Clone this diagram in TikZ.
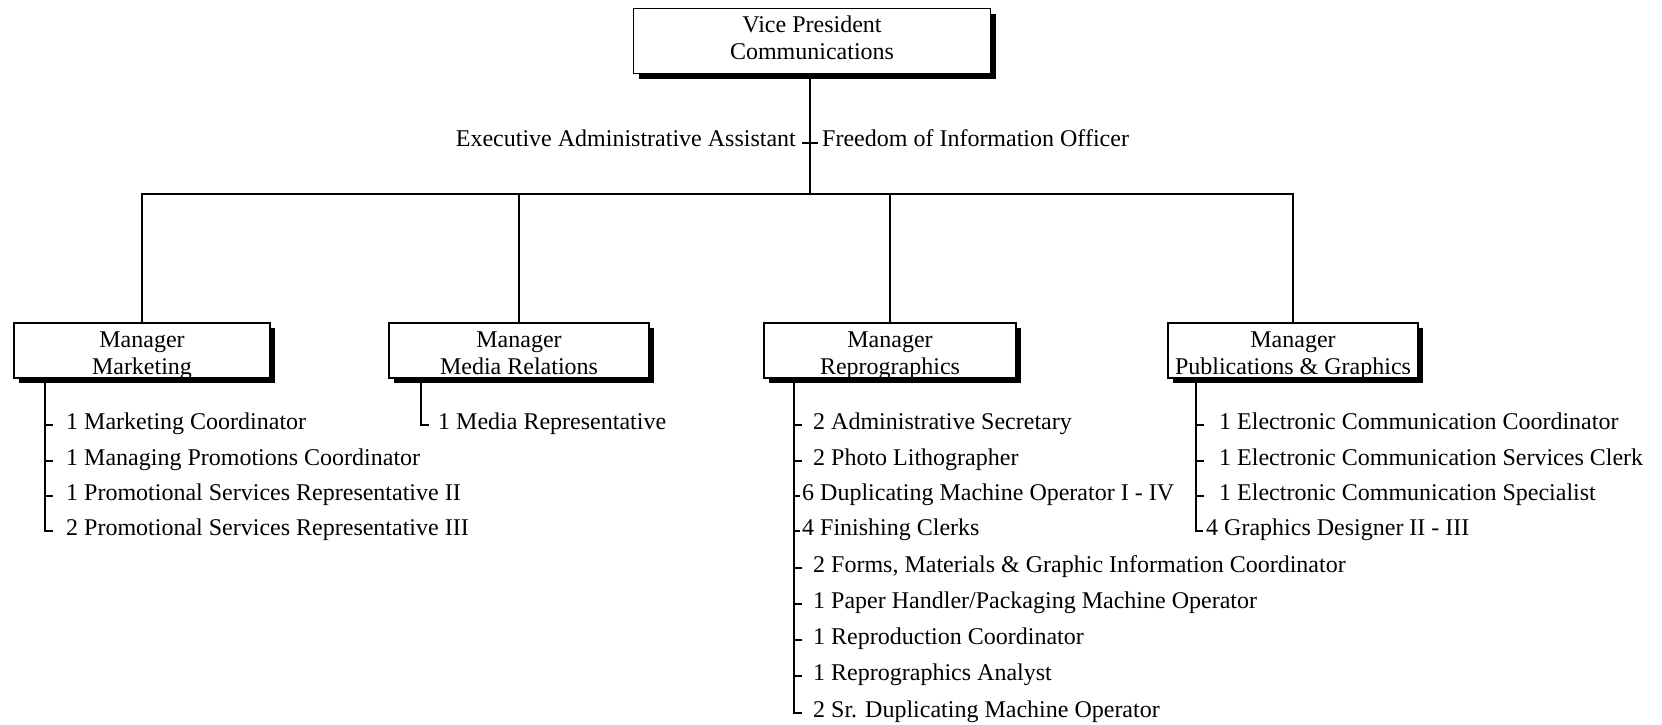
\documentclass[tikz,border=0pt]{standalone}
\usepackage{fontspec}
\setmainfont{Liberation Serif}
\usetikzlibrary{calc,shadows}
\newcommand{\chfont}{\fontsize{24}{27}\selectfont}
\newcommand{\mtop}{\rule{0pt}{24pt}}
\newcommand{\mbot}{\rule[-4pt]{0pt}{4pt}}
\newcommand{\vstr}{\rule[-8pt]{0pt}{25pt}}
\newcommand{\nodp}[1]{\raisebox{0pt}[\height][0pt]{#1}}
\tikzset{
  orgbox/.style={draw, line width=1.6pt, fill=white, align=center, font=\chfont, inner sep=0pt,
    minimum height=55pt, drop shadow={shadow xshift=5pt, shadow yshift=-5pt, opacity=1, fill=black}},
  conn/.style={line width=2pt},
  item/.style={anchor=base west, font=\chfont, inner sep=0pt},
  lbl/.style={font=\chfont, inner sep=0pt},
}
\begin{document}
\begin{tikzpicture}[x=1pt,y=-1pt]
\useasboundingbox (0,0) rectangle (1662,724);
% top box
\node[orgbox, minimum width=357pt, minimum height=65pt] (vp) at (812,41) {\vstr Vice President\\Communications\vstr};
\coordinate (bus) at (810,194);
\draw[conn] (vp.south -| bus) -- (bus);
% staff labels
\node[lbl, anchor=base east] (ea) at (796,146) {Executive Administrative Assistant};
\node[lbl, anchor=base west] (fo) at (822,146) {Freedom of Information Officer};
\draw[conn] ($(ea.base east)+(6,-3.5)$) -- ($(fo.base west)+(-4,-3.5)$);
% managers
\node[orgbox, minimum width=256pt] (m1) at (142,350.5) {\mtop Manager\\\nodp{Marketing}\mbot};
\node[orgbox, minimum width=260pt] (m2) at (519,350.5) {\mtop Manager\\\nodp{Media Relations}\mbot};
\node[orgbox, minimum width=252pt] (m3) at (890,350.5) {\mtop Manager\\\nodp{Reprographics}\mbot};
\node[orgbox, minimum width=250pt] (m4) at (1293,350.5) {\mtop Manager\\\nodp{Publications \& Graphics}\mbot};
\draw[conn] (m1.north) -- (m1.north |- bus) -- (m4.north |- bus) -- (m4.north);
\draw[conn] (m2.north) -- (m2.north |- bus);
\draw[conn] (m3.north) -- (m3.north |- bus);
% list spines
\coordinate (l1) at (45,380);
\coordinate (l2) at (421,380);
\coordinate (l3) at (794,380);
\coordinate (l4) at (1196,380);
% Marketing items
\node[item] (a1) at (66,429) {1 Marketing Coordinator};
\node[item] (a2) at (66,465) {1 Managing Promotions Coordinator};
\node[item] (a3) at (66,500) {1 Promotional Services Representative II};
\node[item] (a4) at (66,535) {2 Promotional Services Representative III};
\foreach \n in {a1,a2,a3} \draw[conn] ($(l1 |- \n.base)+(0,-4)$) -- ++(8,0);
\draw[conn] (m1.south -| l1) -- ($(l1 |- a4.base)+(0,-4)$) -- ++(8,0);
% Media items
\node[item] (b1) at (438,429) {1 Media Representative};
\draw[conn] (m2.south -| l2) -- ($(l2 |- b1.base)+(0,-4)$) -- ++(8,0);
% Reprographics items
\node[item] (c1) at (813,429) {2 Administrative Secretary};
\node[item] (c2) at (813,465) {2 Photo Lithographer};
\node[item] (c3) at (802,500) {6 Duplicating Machine Operator I - IV};
\node[item] (c4) at (802,535) {4 Finishing Clerks};
\node[item] (c5) at (813,572) {2 Forms, Materials \& Graphic Information Coordinator};
\node[item] (c6) at (813,608) {1 Paper Handler/Packaging Machine Operator};
\node[item] (c7) at (813,644) {1 Reproduction Coordinator};
\node[item] (c8) at (813,680) {1 Reprographics Analyst};
\node[item] (c9) at (813,717) {2 Sr. Duplicating Machine Operator};
\foreach \n in {c1,c2,c5,c6,c7,c8} \draw[conn] ($(l3 |- \n.base)+(0,-4)$) -- ++(8,0);
\foreach \n in {c3,c4} \draw[conn] ($(l3 |- \n.base)+(0,-4)$) -- ++(6,0);
\draw[conn] (m3.south -| l3) -- ($(l3 |- c9.base)+(0,-4)$) -- ++(8,0);
% Publications items
\node[item] (d1) at (1219,429) {1 Electronic Communication Coordinator};
\node[item] (d2) at (1219,465) {1 Electronic Communication Services Clerk};
\node[item] (d3) at (1219,500) {1 Electronic Communication Specialist};
\node[item] (d4) at (1206,535) {4 Graphics Designer II - III};
\foreach \n in {d1,d2,d3} \draw[conn] ($(l4 |- \n.base)+(0,-4)$) -- ++(8,0);
\draw[conn] (m4.south -| l4) -- ($(l4 |- d4.base)+(0,-4)$) -- ++(7,0);
\end{tikzpicture}
\end{document}
